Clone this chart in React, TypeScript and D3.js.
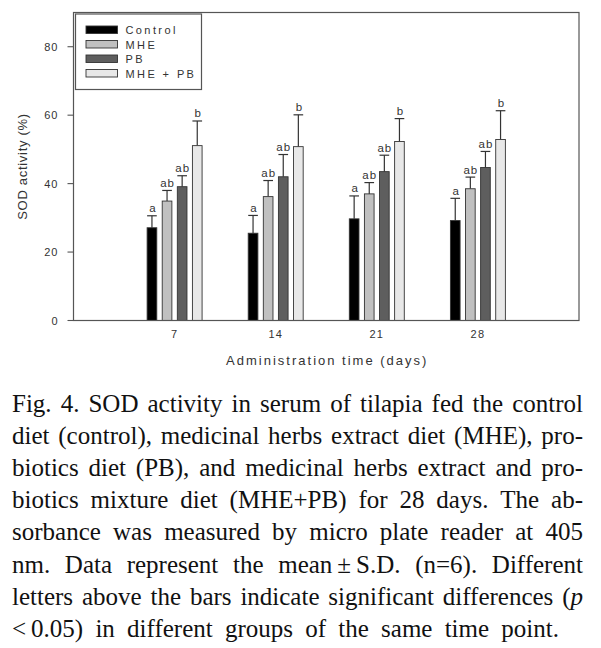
import React from "react";
import * as d3 from "d3";

const days = [7, 14, 21, 28];
const groups = ["Control", "MHE", "PB", "MHE + PB"];
const controlMean = [27.1, 25.5, 29.7, 29.2];
const controlSD = [3.5, 5.2, 6.7, 6.5];
const mheMean = [34.9, 36.2, 37.0, 38.5];
const mheSD = [3.1, 4.7, 3.3, 3.4];
const pbMean = [39.1, 42.0, 43.5, 44.7];
const pbSD = [3.2, 6.5, 4.8, 4.7];
const mhePbMean = [51.1, 50.8, 52.3, 52.9];
const mhePbSD = [7.2, 9.3, 6.7, 8.4];
const controlLetters = ["a", "a", "a", "a"];
const mheLetters = ["ab", "ab", "ab", "ab"];
const pbLetters = ["ab", "ab", "ab", "ab"];
const mhePbLetters = ["b", "b", "b", "b"];
const yTicks = [0, 20, 40, 60, 80];
const yLabel = "SOD activity (%)";
const xLabel = "Administration time (days)";
const captionLines = [
  "Fig. 4. SOD activity in serum of tilapia fed the control",
  "diet (control), medicinal herbs extract diet (MHE), pro-",
  "biotics diet (PB), and medicinal herbs extract and pro-",
  "biotics mixture diet (MHE+PB) for 28 days. The ab-",
  "sorbance was measured by micro plate reader at 405",
  "nm. Data represent the mean\u2009±\u2009S.D. (n=6). Different",
  "letters above the bars indicate significant differences (_p_",
  "<\u20090.05) in different groups of the same time point.",
];

const means = [controlMean, mheMean, pbMean, mhePbMean];
const sds = [controlSD, mheSD, pbSD, mhePbSD];
const letters = [controlLetters, mheLetters, pbLetters, mhePbLetters];
const fills = ["#000000", "#c0c0c0", "#5e5e5e", "#e8e8e8"];

const SANS = "'Liberation Sans', Arial, sans-serif";
const SERIF = "'Liberation Serif', 'Times New Roman', serif";
const CAP_FONT = 25;

let ctx: CanvasRenderingContext2D | null = null;
function measure(text: string, italic: boolean) {
  if (!ctx) ctx = document.createElement("canvas").getContext("2d");
  if (!ctx) return text.length * CAP_FONT * 0.45;
  ctx.font = `${italic ? "italic " : ""}${CAP_FONT}px 'Liberation Serif', 'Times New Roman', serif`;
  return ctx.measureText(text).width;
}

function parseWord(w: string) {
  const segs: { t: string; it: boolean }[] = [];
  const parts = w.split("_");
  parts.forEach((p, i) => {
    if (p) segs.push({ t: p, it: i % 2 === 1 });
  });
  return segs;
}

export default function App() {
  const W = 601,
    H = 648;
  const left = 73.5,
    right = 579,
    top = 12.5,
    bottom = 320.5;
  const x = d3.scaleLinear().domain([0, 35]).range([left, right]);
  const y = d3.scaleLinear().domain([0, 90]).range([bottom, top]);
  const sub = d3.scaleBand<number>().domain([0, 1, 2, 3]).range([-30.2, 30.2]).paddingInner(0.36).paddingOuter(0.18);
  const bw = sub.bandwidth();

  const capLeft = 12;
  const capRights = [583, 583, 583, 583, 583, 583, 583, 559];
  const baseY = 412;
  const lineH = 32.1;

  return (
    <svg width={W} height={H} style={{ position: "absolute", left: 0, top: 0, background: "#fff" }}>
      <rect x={0} y={0} width={W} height={H} fill="#fff" />
      {/* bars */}
      {groups.map((g, gi) =>
        days.map((d, di) => {
          const bx = x(d) + (sub(gi) as number);
          const v = means[gi][di];
          const e = v + sds[gi][di];
          return (
            <g key={`${gi}-${di}`}>
              <line x1={bx + bw / 2} x2={bx + bw / 2} y1={y(v)} y2={y(e)} stroke="#333" strokeWidth={1.2} />
              <line x1={bx} x2={bx + bw} y1={y(e)} y2={y(e)} stroke="#333" strokeWidth={1.2} />
              <rect x={bx} y={y(v)} width={bw} height={y(0) - y(v)} fill={fills[gi]} stroke="#333" strokeWidth={0.9} />
              <text
                x={bx + bw / 2 + 0.5}
                y={y(e) - 3.5}
                textAnchor="middle"
                fontFamily={SANS}
                fontSize={11.5}
                letterSpacing={letters[gi][di].length > 1 ? 1 : 0}
                fill="#333"
              >
                {letters[gi][di]}
              </text>
            </g>
          );
        })
      )}
      {/* frame */}
      <rect x={left} y={top} width={right - left} height={bottom - top} fill="none" stroke="#555" strokeWidth={1.2} />
      {/* y ticks */}
      {yTicks.map((t) => (
        <g key={t}>
          <line x1={left - 6} x2={left} y1={y(t)} y2={y(t)} stroke="#555" strokeWidth={1.1} />
          <text x={left - 15} y={y(t) + 4} textAnchor="end" fontFamily={SANS} fontSize={11} letterSpacing={1} fill="#333">
            {t}
          </text>
        </g>
      ))}
      {/* x tick labels */}
      {days.map((d) => (
        <text key={d} x={x(d)} y={338} textAnchor="middle" fontFamily={SANS} fontSize={11} letterSpacing={1.2} fill="#333">
          {d}
        </text>
      ))}
      {/* axis titles */}
      <text x={(left + right) / 2 + 1} y={365} textAnchor="middle" fontFamily={SANS} fontSize={13} letterSpacing={2} fill="#333">
        {xLabel}
      </text>
      <text
        transform={`translate(26.5, ${(bottom + top) / 2}) rotate(-90)`}
        textAnchor="middle"
        fontFamily={SANS}
        fontSize={13}
        letterSpacing={0.7}
        fill="#333"
      >
        {yLabel}
      </text>
      {/* legend */}
      <rect x={75.5} y={14} width={126} height={75.5} fill="#fff" stroke="#555" strokeWidth={1.2} />
      {groups.map((g, gi) => {
        const ly = 26 + gi * 14.5;
        return (
          <g key={g}>
            <rect x={86} y={ly} width={31.5} height={7.5} fill={fills[gi]} stroke="#333" strokeWidth={0.9} />
            <text x={125.5} y={ly + 8} fontFamily={SANS} fontSize={11} letterSpacing={2.4} fill="#333">
              {g}
            </text>
          </g>
        );
      })}
      {/* caption */}
      {captionLines.map((line, li) => {
        const words = line.split(" ").map(parseWord);
        const widths = words.map((segs) => segs.reduce((s, sg) => s + measure(sg.t, sg.it), 0));
        const total = widths.reduce((a, b) => a + b, 0);
        const gap = words.length > 1 ? (capRights[li] - capLeft - total) / (words.length - 1) : 0;
        let cx = capLeft;
        const yy = baseY + li * lineH;
        return (
          <g key={li}>
            {words.map((segs, wi) => {
              const wx = cx;
              cx += widths[wi] + gap;
              return (
                <text key={wi} x={wx} y={yy} fontFamily={SERIF} fontSize={CAP_FONT} fill="#111">
                  {segs.map((sg, si) => (
                    <tspan key={si} fontStyle={sg.it ? "italic" : "normal"}>
                      {sg.t}
                    </tspan>
                  ))}
                </text>
              );
            })}
          </g>
        );
      })}
    </svg>
  );
}
